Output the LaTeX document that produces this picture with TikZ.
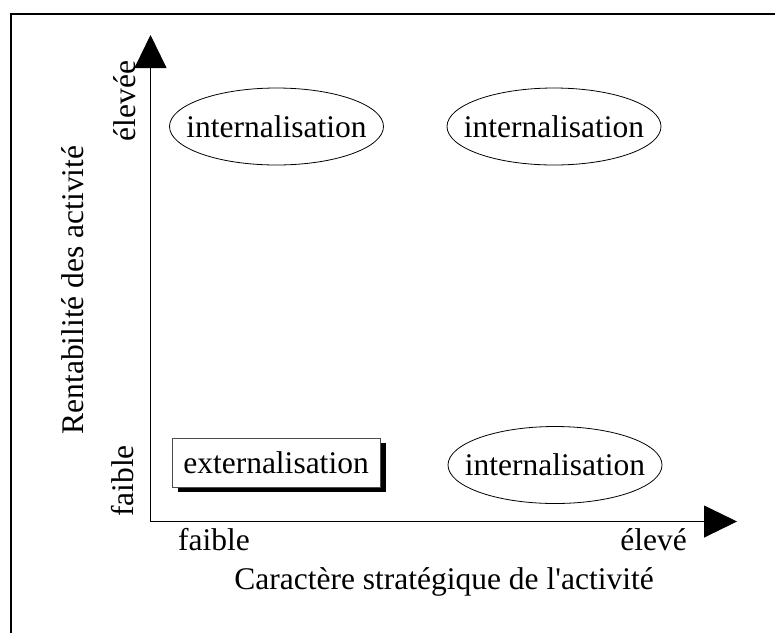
\documentclass[tikz,border=0pt]{standalone}
\usepackage{fontspec}
\setmainfont{Liberation Serif}
\usepackage{tikz}
\usetikzlibrary{arrows.meta,shapes,shadows,positioning}

\begin{document}
\begin{tikzpicture}[x=1pt,y=-1pt,every node/.style={inner sep=0pt,font=\fontsize{31.5}{36}\selectfont},>={Triangle[width=32pt,length=33pt]},
  oval/.style={draw,ellipse,line width=0.8pt,inner xsep=-15pt,minimum width=214pt,minimum height=77pt},
  shadowbox/.style={draw=black!70,line width=0.8pt,fill=white,minimum width=208pt,minimum height=49pt,drop shadow={shadow xshift=6pt,shadow yshift=-5pt,fill=black,opacity=1}}]
\useasboundingbox (0,0) rectangle (775,633);
\coordinate (f1) at (11,633);
\coordinate (f2) at (11,14);
\coordinate (f3) at (775,14);
\draw[line width=2pt] (f1) -- (f2) -- (f3);
\coordinate (o) at (150.5,521.5);
\coordinate (ytip) at (150.5,35);
\coordinate (xtip) at (737,521.5);
\draw[->,line width=0.9pt] (o) -- (ytip);
\draw[->,line width=0.9pt] (o) -- (xtip);
\node[oval] (i1) at (276.5,126.5) {internalisation};
\node[oval] (i2) at (554,126.5) {internalisation};
\node[oval] (i3) at (555,465) {internalisation};
\node[shadowbox] (e1) at (276,462.5) {externalisation};
\node[rotate=90,anchor=base] (yhigh) at (135,101) {élevée};
\node[rotate=90,anchor=base] (ylow) at (133,481) {faible};
\node[rotate=90,anchor=base] (ylab) at (83,290) {Rentabilité des activité};
\node[anchor=base west] (xlow) at (178,550) {faible};
\node[anchor=base east] (xhigh) at (687,550) {élevé};
\node[anchor=base] (xlab) at (444,589) {Caractère stratégique de l\textquotesingle activité};
\end{tikzpicture}
\end{document}
